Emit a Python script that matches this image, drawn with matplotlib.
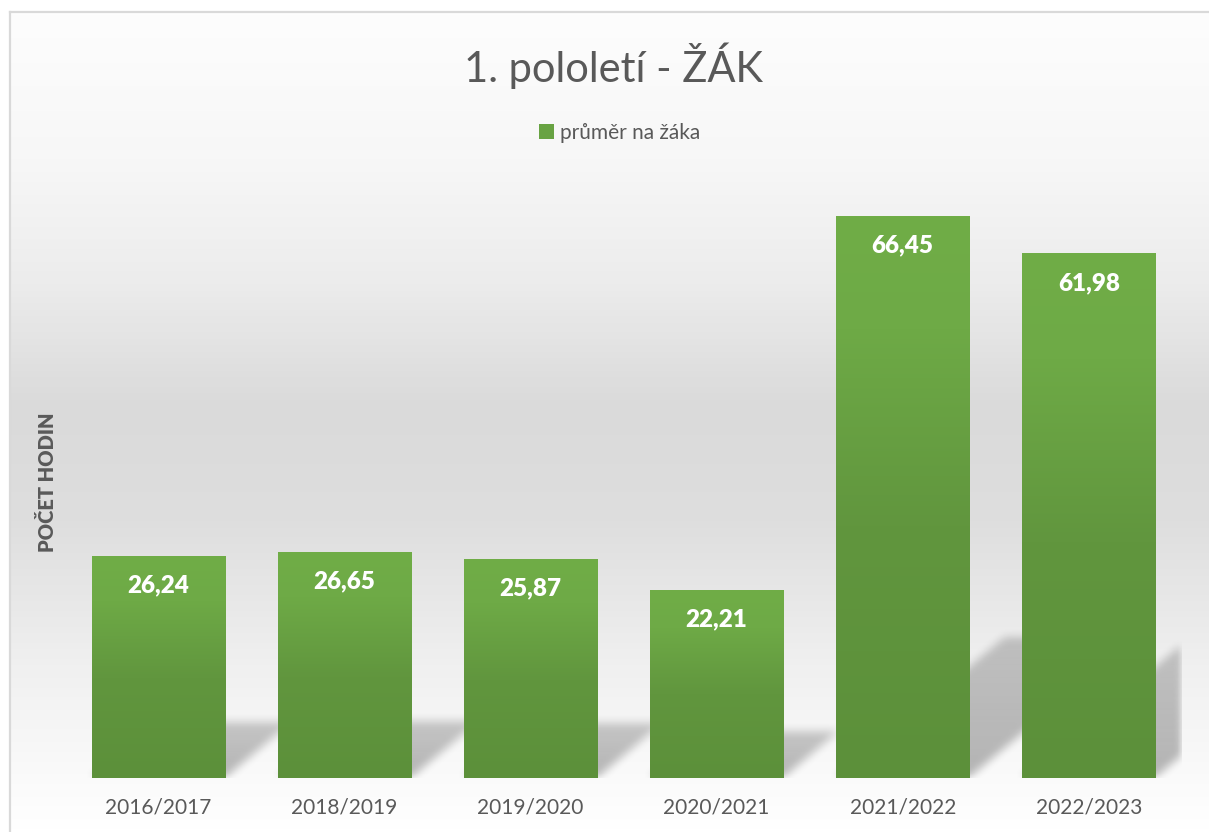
import numpy as np
import matplotlib
matplotlib.use('Agg')
import matplotlib.pyplot as plt
import matplotlib.patches as mpatches
from matplotlib.colors import LinearSegmentedColormap

plt.rcParams['font.family'] = ['Lato', 'DejaVu Sans']

years = ['2016/2017', '2018/2019', '2019/2020', '2020/2021', '2021/2022', '2022/2023']
values = [26.24, 26.65, 25.87, 22.21, 66.45, 61.98]
labels = ['26,24', '26,65', '25,87', '22,21', '66,45', '61,98']
series_name = 'průměr na žáka'
title = '1. pololetí - ŽÁK'
ylabel = 'POČET HODIN'

W, H = 1209, 832
txt = '#595959'
fig = plt.figure(figsize=(W / 100, H / 100), dpi=100)
fig.patch.set_facecolor('white')

# background panel with vertical gradient (white -> gray -> white)
bg = fig.add_axes([10 / W, 0, 1.0, (H - 12) / H], zorder=-5)
bg_cmap = LinearSegmentedColormap.from_list('bg', [
    (0.0, '#fdfdfd'), (0.18, '#f7f7f7'), (0.33, '#ececec'), (0.48, '#dadada'),
    (0.62, '#dedede'), (0.8, '#f0f0f0'), (0.93, '#fafafa'), (1.0, '#ffffff')])
bg.imshow(np.linspace(0, 1, 256).reshape(-1, 1), cmap=bg_cmap, aspect='auto',
          extent=[0, 1, 0, 1], origin='upper')
bg.set_xlim(0, 1)
bg.set_ylim(0, 1)
bg.set_xticks([])
bg.set_yticks([])
for s in ['right', 'bottom']:
    bg.spines[s].set_visible(False)
for s in ['top', 'left']:
    bg.spines[s].set_color('#d9d9d9')
    bg.spines[s].set_linewidth(1.6)

# plot area
ax = fig.add_axes([65 / W, (H - 778) / H, (1182 - 65) / W, (778 - 186) / H])
ax.patch.set_alpha(0)
ymax = 70
ax.set_xlim(-0.5, len(values) - 0.5)
ax.set_ylim(0, ymax)
width = 0.715

# soft perspective shadows cast behind the bars
px_w, px_h = 1117, 592
xs = np.linspace(-0.5, len(values) - 0.5, px_w)
ys = np.linspace(0, ymax, px_h)
XX, YY = np.meshgrid(xs, ys)
sx = px_w / len(values)
sy = px_h / ymax
shadow = np.zeros_like(XX)
for i, v in enumerate(values):
    hp = v * sy
    dy = 0.25 * hp
    dx = 0.30 * hp
    ypx = YY * sy
    t = np.clip(ypx / dy, 0, 1)
    xpx = (XX + 0.5) * sx - t * dx
    x0 = (i - width / 2 + 0.5) * sx
    x1 = (i + width / 2 + 0.5) * sx
    m = (ypx <= dy) & (xpx >= x0) & (xpx <= x1)
    shadow = np.maximum(shadow, m * (1 - 0.3 * t))


def box_blur(a, r):
    k = np.ones(2 * r + 1) / (2 * r + 1)
    a = np.apply_along_axis(lambda c: np.convolve(c, k, mode='same'), 0, a)
    a = np.apply_along_axis(lambda c: np.convolve(c, k, mode='same'), 1, a)
    return a


shadow = box_blur(box_blur(shadow, 5), 4)
rgba = np.zeros((px_h, px_w, 4))
rgba[..., 3] = shadow * 0.28
ax.imshow(rgba, extent=[-0.5, len(values) - 0.5, 0, ymax], origin='lower',
          aspect='auto', zorder=1, interpolation='bilinear')

# bars with gradient fill (light top, darker lower part)
bar_cmap = LinearSegmentedColormap.from_list('bar', [
    (0.0, '#5c903a'), (0.45, '#61963e'), (0.8, '#6eaa46'), (1.0, '#70ad47')])
grad = np.linspace(0, 1, 256).reshape(-1, 1)
for i, v in enumerate(values):
    ax.imshow(grad, cmap=bar_cmap, vmin=0, vmax=1,
              extent=[i - width / 2, i + width / 2, 0, v], origin='lower',
              aspect='auto', zorder=2)
    ax.text(i, v - 3.45, labels[i], ha='center', va='center', color='white',
            fontsize=17.5, fontweight='heavy', zorder=4)

ax.set_xlim(-0.5, len(values) - 0.5)
ax.set_ylim(0, ymax)
ax.set_xticks(range(len(years)), years)
ax.set_yticks([])
ax.tick_params(axis='x', length=0, pad=14, labelsize=15, labelcolor=txt)
for s in ax.spines.values():
    s.set_visible(False)

fig.text(614 / W, 1 - 66 / H, title, ha='center', va='center', fontsize=30, color=txt)
fig.text(47 / W, 1 - 482 / H, ylabel, ha='center', va='center', rotation=90,
         fontsize=14.5, fontweight='heavy', color=txt)

handle = mpatches.Patch(facecolor='#68a343', edgecolor='none', label=series_name)
fig.legend(handles=[handle], loc='center', bbox_to_anchor=(620 / W, 1 - 133 / H),
           frameon=False, fontsize=15, labelcolor=txt, handlelength=0.7,
           handleheight=0.7, handletextpad=0.3)

fig.savefig('out.png', dpi=100)
